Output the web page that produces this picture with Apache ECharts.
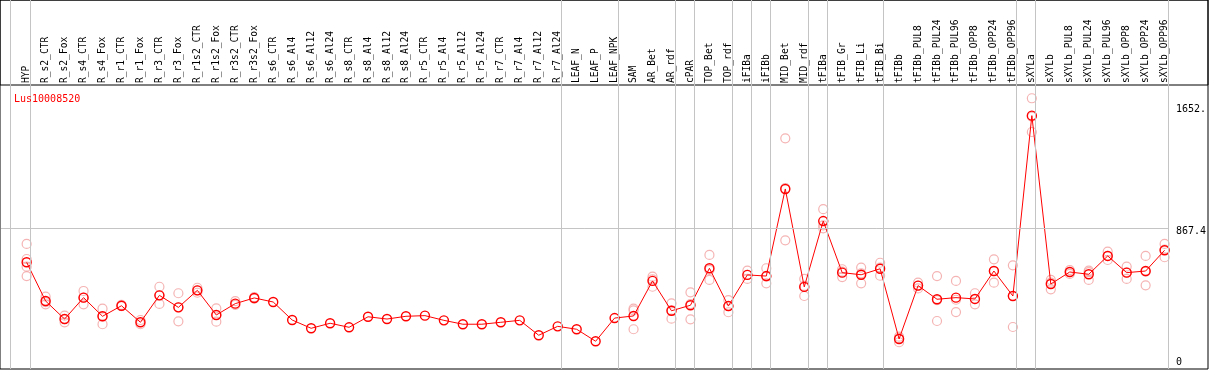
<!DOCTYPE html>
<html>
<head>
<meta charset="utf-8">
<script src="https://cdn.jsdelivr.net/npm/echarts@6/dist/echarts.min.js"></script>
<style>
html,body{margin:0;padding:0;background:#fff;}
#chart{width:1209px;height:370px;}
</style>
</head>
<body>
<div id="chart"></div>
<script>
const chartTitle = 'Lus10008520';
const categories = ['HYP','R_s2_CTR','R_s2_Fox','R_s4_CTR','R_s4_Fox','R_r1_CTR','R_r1_Fox','R_r3_CTR','R_r3_Fox','R_r1s2_CTR','R_r1s2_Fox','R_r3s2_CTR','R_r3s2_Fox','R_s6_CTR','R_s6_Al4','R_s6_Al12','R_s6_Al24','R_s8_CTR','R_s8_Al4','R_s8_Al12','R_s8_Al24','R_r5_CTR','R_r5_Al4','R_r5_Al12','R_r5_Al24','R_r7_CTR','R_r7_Al4','R_r7_Al12','R_r7_Al24','LEAF_N','LEAF_P','LEAF_NPK','SAM','AR_Bet','AR_rdf','cPAR','TOP_Bet','TOP_rdf','iFIBa','iFIBb','MID_Bet','MID_rdf','tFIBa','tFIB_Gr','tFIB_Li','tFIB_Bi','tFIBb','tFIBb_PUL8','tFIBb_PUL24','tFIBb_PUL96','tFIBb_OPP8','tFIBb_OPP24','tFIBb_OPP96','sXYLa','sXYLb','sXYLb_PUL8','sXYLb_PUL24','sXYLb_PUL96','sXYLb_OPP8','sXYLb_OPP24','sXYLb_OPP96'];
const means = [658,419,308,440,325,390,288,454,380,485,333,403,438,413,302,251,282,257,322,308,325,329,300,276,276,288,300,208,263,245,171,314,327,543,359,393,621,388,580,573,1110,506,912,594,581,618,185,514,430,440,432,604,450,1562,524,598,584,697,594,604,732];
const replicates = [
  [771,678,631,573],[446,412,399],[329,308,288],[481,440,399],[372,325,276],[395,388],[302,276],[507,454,401],[467,380,294],[501,485,470],[374,333,292],[418,395],[443,433],
  [],[],[],[],[],[],[],[],[],[],[],[],[],[],[],[],[],[],[],
  [372,362,245],[569,553,507],[405,362,310],[473,400,306],[703,611,549],[425,388,350],[606,580,555],[621,570,528],[1422,1115,793],[555,512,450],[985,885,867],[615,600,567],[625,590,528],[655,625,575],[199,190,165],
  [532,514,497],[573,425,296],[543,427,351],[467,430,399],[676,604,532],[639,450,259],[1669,1556,1461],[549,532,491],[610,598,586],[606,597,549],[723,697,672],[631,596,555],[697,600,516],[771,736,689]
];
const groupEnds = ['HYP','R_r7_Al24','LEAF_NPK','AR_rdf','cPAR','TOP_rdf','iFIBa','iFIBb','MID_rdf','tFIBa','tFIB_Bi','tFIBb_OPP96','sXYLa','sXYLb_OPP96'];
const yTickValues = [0, 867.4, 1652];
const yTickLabels = ['0', '867.4', '1652.'];

const FONT = '"DejaVu Sans Mono", monospace';
const sepOffset = 0.19;
const sepValues = [-1 + 0.12].concat(groupEnds.map(n => categories.indexOf(n) + sepOffset));
const meanData = means.map((v, i) => [i, v]);
const repData = [];
replicates.forEach((arr, i) => arr.forEach(v => repData.push([i, v])));

const chart = echarts.init(document.getElementById('chart'), null, {renderer: 'canvas'});
const xMin = -25.7 / 19;
const xMax = xMin + 1170 / 19;
const yMax = 369 / ((369 - 228.3) / 867.4);
const yStyles = ['b', 't', 'm'];

chart.setOption({
  animation: false,
  title: {
    text: chartTitle, left: 9, top: 89,
    textStyle: {color: '#ff0000', fontSize: 10, fontWeight: 'normal', fontFamily: FONT}
  },
  grid: [
    {left: 1, top: 0, right: 38, bottom: 1, show: false, containLabel: false},
    {left: 0, top: 0, right: 1, bottom: 1, show: true, borderColor: '#000', borderWidth: 1, backgroundColor: 'transparent'},
    {left: 0, top: 0, right: 1, height: 85, show: true, borderColor: '#000', borderWidth: 1, backgroundColor: 'transparent'}
  ],
  xAxis: [{
    type: 'value', gridIndex: 0, position: 'top', offset: -85,
    min: xMin, max: xMax,
    axisLine: {show: false}, axisTick: {show: false}, splitLine: {show: false},
    axisLabel: {
      customValues: categories.map((c, i) => i),
      rotate: 90, margin: 2, fontSize: 9.6, fontFamily: FONT, color: '#000',
      formatter: v => categories[Math.round(v)] || ''
    }
  }],
  yAxis: [{
    type: 'value', gridIndex: 0, position: 'right', min: 0, max: yMax,
    axisLine: {show: false}, axisTick: {show: false}, splitLine: {show: false},
    axisLabel: {
      customValues: yTickValues, margin: 7, fontSize: 10, fontFamily: FONT, color: '#000',
      formatter: v => {
        const k = yTickValues.indexOf(v);
        return '{' + yStyles[k] + '|' + yTickLabels[k] + '}';
      },
      rich: {
        b: {fontSize: 10, fontFamily: FONT, color: '#000', padding: [0, 0, 13, 0]},
        t: {fontSize: 10, fontFamily: FONT, color: '#000', padding: [6, 0, 0, 0]},
        m: {fontSize: 10, fontFamily: FONT, color: '#000', padding: [16, 0, 0, 0]}
      }
    }
  }],
  series: [
    {
      type: 'line', data: [], z: 1, silent: true,
      markLine: {
        silent: true, symbol: 'none', animation: false,
        label: {show: false},
        lineStyle: {color: '#c4c4c4', width: 1, type: 'solid'},
        emphasis: {disabled: true},
        data: sepValues.map(v => ({xAxis: v})).concat([{yAxis: yTickValues[1]}])
      }
    },
    {
      type: 'scatter', data: repData, z: 2, symbol: 'circle', symbolSize: 9, silent: true,
      itemStyle: {color: 'rgba(0,0,0,0)', borderColor: '#f2a0a0', borderWidth: 1.2}
    },
    {
      type: 'line', data: meanData, z: 3, symbol: 'circle', symbolSize: 9, showAllSymbol: true, silent: true,
      lineStyle: {color: '#ff0000', width: 1},
      itemStyle: {color: 'rgba(0,0,0,0)', borderColor: '#ff0000', borderWidth: 1.4}
    }
  ]
});
</script>
</body>
</html>
